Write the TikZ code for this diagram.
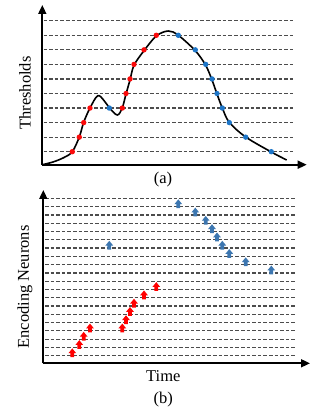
\documentclass[tikz,border=0pt]{standalone}
\usepackage{fontspec}
\setmainfont{Liberation Serif}
\usepackage{tikz}
\usetikzlibrary{positioning,arrows.meta,calc}
\definecolor{dotred}{RGB}{250,10,10}
\definecolor{dotblue}{RGB}{30,118,200}
\definecolor{spikeblue}{RGB}{60,118,176}
\tikzset{
  axisarrow/.style={-{Triangle[length=9pt,width=8pt]}, line width=1.7pt},
  levelline/.style={dashed, dash pattern=on 3.6pt off 2pt, line width=1.25pt, black!70},
  signal/.style={line width=1.6pt, black},
  updot/.style={fill=dotred},
  downdot/.style={fill=dotblue},
  upspike/.style={fill=red},
  downspike/.style={fill=spikeblue},
  axislabel/.style={font=\fontsize{16.5}{19}\selectfont, inner sep=0pt}
}
\begin{document}
\begin{tikzpicture}[x=1pt, y=-1pt]
  \useasboundingbox (0,0) rectangle (316,411);

  % (a) thresholds crossed by the signal
  \coordinate (oa) at (42.3,164.7);
  \coordinate (ya) at (42.3,5);
  \coordinate (xa) at (306.7,164.7);
  \foreach \k in {1,...,10}
    \draw[levelline] (43.5,166.25-14.55*\k) -- (293,166.25-14.55*\k);
  \draw[signal] plot[smooth, tension=0.55] coordinates {
    (42.3,164.7) (53,162) (64,157.5) (72.3,151.7) (79.3,137) (83.7,122.3) (90,108)
    (97.7,95.7) (104,100.5) (109.3,107.7) (117.3,115) (122.3,107.7) (126,94)
    (130,80) (134,65.3) (144,50.7) (156.3,36) (168.3,31) (178.3,35.3) (195.3,50.7)
    (205.7,65.3) (212,80) (217,94) (222.3,108) (229.3,122.3) (245.7,137)
    (271.3,152) (286.7,160)};
  \foreach \x/\k in {72.3/1, 79.3/2, 83.7/3, 90/4, 122.3/4, 126/5, 130/6, 134/7, 144/8, 156.3/9}
    \fill[updot] (\x,166.25-14.55*\k) circle (2.7);
  \foreach \x/\k in {109.3/4, 178.3/9, 195.3/8, 205.7/7, 212/6, 217/5, 222.3/4, 229.3/3, 245.7/2, 271.3/1}
    \fill[downdot] (\x,166.25-14.55*\k) circle (2.7);
  \draw[axisarrow] (oa) -- (ya);
  \draw[axisarrow] (oa) -- (xa);
  \node[axislabel, rotate=90] (thr) at (25,93) {Thresholds};
  \node[axislabel] (capa) at (163,180) {(a)};

  % (b) spikes of the encoding neurons
  \coordinate (ob) at (43.3,363.3);
  \coordinate (yb) at (43.3,190);
  \coordinate (xb) at (310,363.3);
  \foreach \k in {1,...,20}
    \draw[levelline] (45,363.98-8.28*\k) -- (296.7,363.98-8.28*\k);
  \foreach \x/\k in {72.3/1, 79.3/2, 83.7/3, 90/4, 122.3/4, 126/5, 130/6, 134/7, 144/8, 156.3/9}
    \fill[upspike] (\x,365.5-8.28*\k) ++(-1.9,0) -- ++(0,-4) -- ++(-2,0)
      -- ++(3.9,-4.8) -- ++(3.9,4.8) -- ++(-2,0) -- ++(0,4) -- cycle;
  \foreach \x/\k in {109.3/4, 178.3/9, 195.3/8, 205.7/7, 212/6, 217/5, 222.3/4, 229.3/3, 245.7/2, 271.3/1}
    \fill[downspike] (\x,365.5-8.28*\k-82.8) ++(-1.9,0) -- ++(0,-4) -- ++(-2,0)
      -- ++(3.9,-4.8) -- ++(3.9,4.8) -- ++(-2,0) -- ++(0,4) -- cycle;
  \draw[axisarrow] (ob) -- (yb);
  \draw[axisarrow] (ob) -- (xb);
  \node[axislabel, rotate=90] (enc) at (25,287) {Encoding Neurons};
  \node[axislabel] (time) at (163.3,376.5) {Time};
  \node[axislabel] (capb) at (163.3,400) {(b)};
\end{tikzpicture}
\end{document}
